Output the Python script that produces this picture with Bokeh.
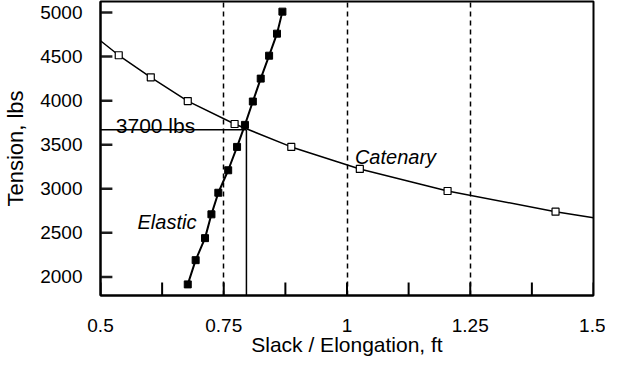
from bokeh.plotting import figure
from bokeh.models import FixedTicker, Range1d, Label
from bokeh.embed import file_html
from bokeh.resources import INLINE

# ---- data ----
elastic_slack = [0.677, 0.693, 0.712, 0.725, 0.739, 0.759, 0.777, 0.793, 0.809, 0.825, 0.842, 0.858, 0.869]
elastic_tension = [1915, 2190, 2440, 2710, 2955, 3210, 3475, 3725, 3990, 4250, 4510, 4760, 5010]

catenary_marker_slack = [0.537, 0.602, 0.677, 0.772, 0.887, 1.026, 1.204, 1.423]
catenary_marker_tension = [4515, 4265, 3995, 3735, 3475, 3225, 2975, 2740]

catenary_curve_slack = [0.5, 0.537, 0.602, 0.677, 0.772, 0.887, 1.026, 1.204, 1.423, 1.5]
catenary_curve_tension = [4680, 4515, 4265, 3995, 3735, 3475, 3225, 2975, 2740, 2670]

intersect_slack = 0.796
intersect_tension = 3670

x_ticks = [0.5, 0.75, 1.0, 1.25, 1.5]
x_tick_labels = ["0.5", "0.75", "1", "1.25", "1.5"]
x_minor_ticks = [0.625, 0.875, 1.125, 1.375]
dashed_at = [0.75, 1.0, 1.25]
y_ticks = [2000, 2500, 3000, 3500, 4000, 4500, 5000]

x_min, x_max = 0.5, 1.5
y_min, y_max = 1789, 5125

FONT = "Liberation Sans"

W, H = 605, 360
B_LEFT, B_RIGHT, B_TOP, B_BOTTOM = 95, 12, 1, 65
frame_w = W - B_LEFT - B_RIGHT
frame_h = H - B_TOP - B_BOTTOM

p = figure(width=W, height=H, output_backend="svg", toolbar_location=None,
           x_range=Range1d(x_min, x_max), y_range=Range1d(y_min, y_max),
           min_border_left=B_LEFT, min_border_right=B_RIGHT,
           min_border_top=B_TOP, min_border_bottom=B_BOTTOM)

p.background_fill_color = "white"
p.border_fill_color = "white"
p.outline_line_color = "black"
p.outline_line_width = 2

# grid: dashed verticals only
p.ygrid.visible = False
p.xgrid.ticker = FixedTicker(ticks=dashed_at)
p.xgrid.grid_line_color = "black"
p.xgrid.grid_line_width = 1.5
p.xgrid.grid_line_dash = "5 4"

# axes
xa = p.xaxis[0]
xa.ticker = FixedTicker(ticks=x_ticks, minor_ticks=x_minor_ticks)
xa.major_label_overrides = {t: l for t, l in zip(x_ticks, x_tick_labels)}
xa.axis_label = "Slack / Elongation, ft"
ya = p.yaxis[0]
ya.ticker = FixedTicker(ticks=y_ticks, minor_ticks=[])
ya.axis_label = "Tension, lbs"

for ax in (xa, ya):
    ax.axis_line_color = "black"
    ax.axis_line_width = 2
    ax.major_tick_in = 0
    ax.major_tick_out = 0
    ax.minor_tick_in = 0
    ax.minor_tick_out = 0
    ax.major_label_text_font = FONT
    ax.major_label_text_font_size = "19px"
    ax.major_label_text_color = "black"
    ax.axis_label_text_font = FONT
    ax.axis_label_text_font_style = "normal"
    ax.axis_label_text_color = "black"

xa.axis_label_text_font_size = "21px"
ya.axis_label_text_font_size = "22px"
xa.major_label_standoff = 23
xa.axis_label_standoff = -2
ya.major_label_standoff = 18
ya.axis_label_standoff = 9

# inward tick marks, drawn inside the frame
x_tick_len = 13 * (y_max - y_min) / frame_h
y_tick_len = 12 * (x_max - x_min) / frame_w
x_all_ticks = list(x_ticks) + list(x_minor_ticks)
p.segment(x0=list(x_all_ticks), y0=[y_min] * len(x_all_ticks),
          x1=list(x_all_ticks), y1=[y_min + x_tick_len] * len(x_all_ticks),
          line_color="black", line_width=2)
p.segment(x0=[x_min] * len(y_ticks), y0=list(y_ticks),
          x1=[x_min + y_tick_len] * len(y_ticks), y1=list(y_ticks),
          line_color="#1e1e1e", line_width=2.5)

# 3700 lbs reference lines
p.line([x_min, intersect_slack], [intersect_tension, intersect_tension], line_color="black", line_width=1.5)
p.line([intersect_slack, intersect_slack], [y_min, intersect_tension], line_color="black", line_width=1.5)

# catenary
p.line(catenary_curve_slack, catenary_curve_tension, line_color="black", line_width=1.5)
p.scatter(catenary_marker_slack, catenary_marker_tension, marker="square", size=7,
          fill_color="white", line_color="black", line_width=1.2)

# elastic
p.line(elastic_slack, elastic_tension, line_color="black", line_width=2)
p.scatter(elastic_slack, elastic_tension, marker="square", size=7,
          fill_color="black", line_color="black", line_width=1)

# annotations
p.add_layout(Label(x=0.531, y=3719, text="3700 lbs", text_font=FONT, text_font_size="21px",
                   text_align="left", text_baseline="alphabetic", text_color="black"))
p.add_layout(Label(x=1.016, y=3360, text="Catenary", text_font=FONT, text_font_size="20px",
                   text_font_style="italic", text_align="left", text_baseline="alphabetic", text_color="black"))
p.add_layout(Label(x=0.575, y=2622, text="Elastic", text_font=FONT, text_font_size="20px",
                   text_font_style="italic", text_align="left", text_baseline="alphabetic", text_color="black"))

open("out.html", "w").write(file_html(p, INLINE))
